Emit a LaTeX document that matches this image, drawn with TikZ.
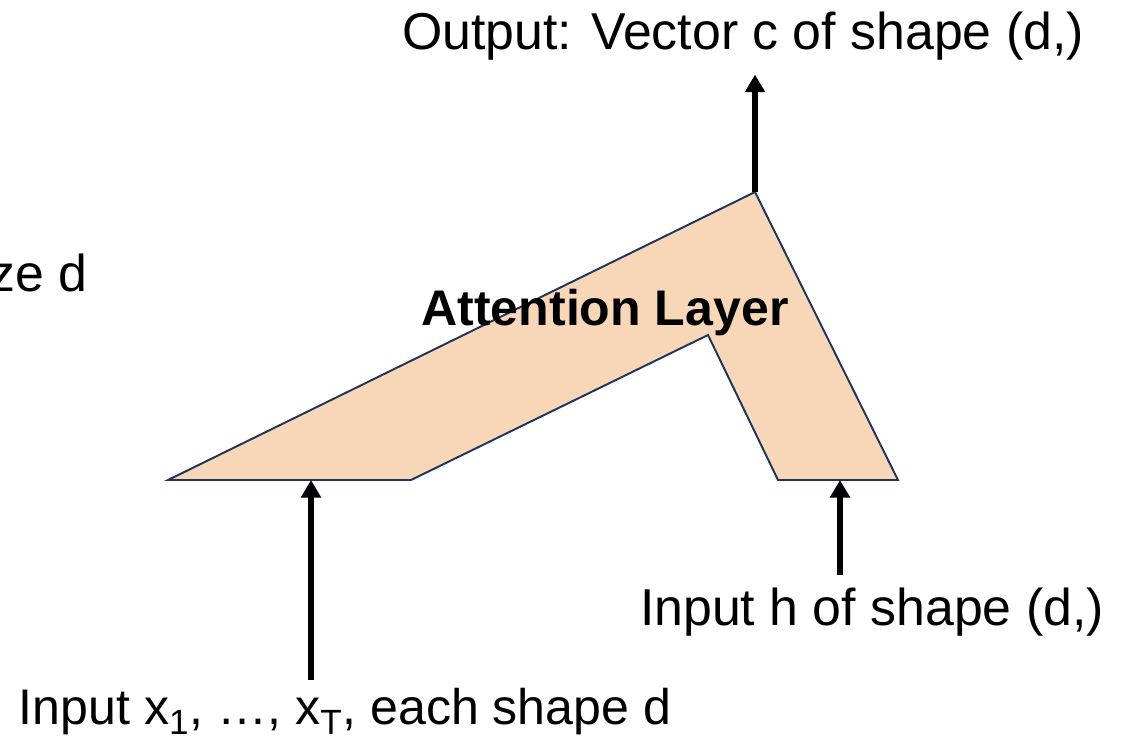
\documentclass[tikz,border=0pt]{standalone}
\usepackage{fontspec}
\setmainfont{Liberation Sans}
\usetikzlibrary{positioning,arrows.meta}
\definecolor{peach}{RGB}{248,215,185}
\definecolor{navy}{RGB}{31,52,92}

\begin{document}
\begin{tikzpicture}[x=0.02cm, y=-0.02cm,
      layer/.style={fill=peach, draw=navy, line width=1.1pt, line join=miter},
      lbl/.style={font=\fontsize{29.5}{34}\selectfont, inner sep=0pt},
      arr/.style={-{Triangle[length=10pt, width=11pt]}, line width=2.9pt, black}]
    \useasboundingbox (0,0) rectangle (1124,745);
    % corners of the layer
    \coordinate (lb) at (168,480);
    \coordinate (apex) at (755,192);
    \coordinate (rbr) at (898,480);
    \coordinate (rbl) at (778,480);
    \coordinate (notch) at (708,335);
    \coordinate (ib) at (411,480);
    \draw[layer] (lb) -- (apex) -- (rbr) -- (rbl) -- (notch) -- (ib) -- cycle;
    \coordinate (xin) at (311,480);
    \coordinate (hin) at (840,480);
    % texts
    \node[lbl] (out) at (743,36) {Output: Vector c of shape (d,)};
    \node[lbl, font=\fontsize{28.5}{34}\selectfont\bfseries] (att) at (605,313) {Attention Layer};
    \node[lbl, anchor=east] (hid) at (88,273) {ze d};
    \node[lbl] (inh) at (872,612) {Input h of shape (d,)};
    \node[lbl, font=\fontsize{28.5}{34}\selectfont] (inx) at (345,712) {Input x\textsubscript{1}, …, x\textsubscript{T}, each shape d};
    % arrows
    \draw[arr] (apex) -- ([yshift=-8pt]apex |- out.south);
    \draw[arr] ([yshift=5pt]xin |- inx.north) -- (xin);
    \draw[arr] ([yshift=7pt]hin |- inh.north) -- (hin);
\end{tikzpicture}
\end{document}
